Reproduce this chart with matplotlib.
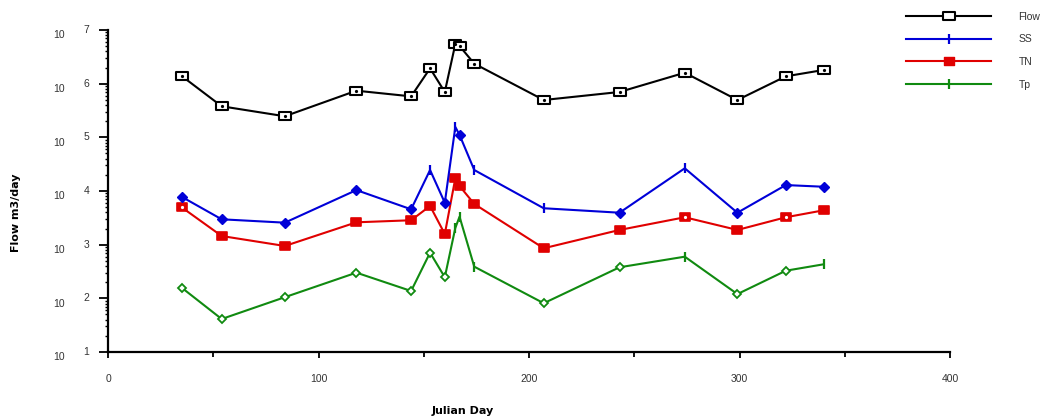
import matplotlib
matplotlib.use("Agg")
import matplotlib.pyplot as plt
from matplotlib.lines import Line2D
from matplotlib.path import Path
import numpy as np

plt.rcParams['font.family'] = ['Liberation Sans', 'DejaVu Sans']

# ---------------- data ----------------
days = [35, 54, 84, 118, 144, 153, 160, 165, 167, 174, 207, 243, 274, 299, 322, 340]
flow = [1.39e6, 3.79e5, 2.47e5, 7.4e5, 5.8e5, 1.93e6, 7.0e5, 5.48e6, 5.03e6, 2.36e6,
        4.96e5, 7.0e5, 1.60e6, 4.96e5, 1.37e6, 1.80e6]
ss = [7.8e3, 2.97e3, 2.57e3, 1.04e4, 4.56e3, 2.46e4, 6.05e3, 1.56e5, 1.11e5, 2.46e4,
      4.77e3, 3.94e3, 2.65e4, 3.94e3, 1.29e4, 1.20e4]
tn = [4.97e3, 1.45e3, 945, 2.61e3, 2.85e3, 5.26e3, 1.58e3, 1.73e4, 1.24e4, 5.73e3,
      857, 1.88e3, 3.24e3, 1.88e3, 3.24e3, 4.37e3]
tp = [158, 41.2, 105, 301, 137, 710, 247, 2.05e3, 3.32e3, 389,
      81, 379, 597, 120, 327, 431]
series_names = ['Flow', 'SS', 'TN', 'Tp']
x_ticks = [0, 100, 200, 300, 400]
y_exponents = [1, 2, 3, 4, 5, 6, 7]

# per-point marker kinds (style)
ss_kind = ['D', 'D', 'D', 'D', 'D', '|', 'D', '|', 'D', '|', '|', 'D', '|', 'D', 'D', 'D']
tp_kind = ['D', 'D', 'D', 'D', 'D', 'D', 'D', '|', '|', '|', 'D', 'D', '|', 'D', 'D', '|']
tn_dot = [True] + [False] * 11 + [True, False, True, False]

# ---------------- styles ----------------
C_FLOW = '#000000'
C_SS = '#0000d8'
C_TN = '#e00000'
C_TP = '#108a10'
LW = 1.5
TXT = '#333333'

rect = Path([(-1, -0.72), (1, -0.72), (1, 0.72), (-1, 0.72), (-1, -0.72)],
            [Path.MOVETO, Path.LINETO, Path.LINETO, Path.LINETO, Path.CLOSEPOLY])

fig = plt.figure(figsize=(10.41, 4.17), dpi=100)
ax = fig.add_axes([108 / 1041, 65 / 417, 842 / 1041, 322 / 417])

d = np.array(days)

# Flow
ax.plot(days, flow, color=C_FLOW, lw=LW, marker=rect, ms=8.2, mfc='white',
        mec=C_FLOW, mew=1.5, zorder=5)
ax.plot(days, flow, ls='none', marker='o', ms=1.3, mfc=C_FLOW, mec=C_FLOW, zorder=6)

# SS
ax.plot(days, ss, color=C_SS, lw=LW, zorder=4)
ssa = np.array(ss)
m = np.array([k == 'D' for k in ss_kind])
ax.plot(d[m], ssa[m], ls='none', marker='D', ms=4.6, mfc=C_SS, mec=C_SS, zorder=4)
ax.plot(d[~m], ssa[~m], ls='none', marker='|', ms=7, mew=1.6, mec=C_SS, zorder=4)

# TN
tna = np.array(tn)
ax.plot(days, tn, color=C_TN, lw=LW, marker=rect, ms=7.4, mfc=C_TN, mec=C_TN,
        mew=1.2, zorder=3)
dm = np.array(tn_dot)
ax.plot(d[dm], tna[dm], ls='none', marker='o', ms=1.3, mfc='white', mec='white', zorder=3.5)

# Tp
tpa = np.array(tp)
ax.plot(days, tp, color=C_TP, lw=LW, zorder=2)
m2 = np.array([k == 'D' for k in tp_kind])
ax.plot(d[m2], tpa[m2], ls='none', marker='D', ms=4.4, mfc='white', mec=C_TP, mew=1.3, zorder=2)
ax.plot(d[~m2], tpa[~m2], ls='none', marker='|', ms=7, mew=1.6, mec=C_TP, zorder=2)

# ---------------- axes ----------------
ax.set_yscale('log')
ax.set_ylim(10, 1e7)
ax.set_xlim(0, 400)
for s in ['top', 'right']:
    ax.spines[s].set_visible(False)
for s in ['left', 'bottom']:
    ax.spines[s].set_linewidth(1.6)

ax.set_xticks(x_ticks)
ax.set_xticks([50, 150, 250, 350], minor=True)
ax.set_xticklabels([str(v) for v in x_ticks], fontsize=7.5, color=TXT)
ax.tick_params(axis='x', which='major', direction='out', length=4.5, width=1.3, pad=11)
ax.tick_params(axis='x', which='minor', direction='out', length=3.5, width=1.3)

yt = [10.0 ** e for e in y_exponents]
ax.set_yticks(yt)
ax.set_yticklabels([str(e) for e in y_exponents], fontsize=7.5, color=TXT)
ax.yaxis.set_minor_locator(matplotlib.ticker.LogLocator(base=10, subs=np.arange(2, 10)))
ax.yaxis.set_minor_formatter(matplotlib.ticker.NullFormatter())
ax.tick_params(axis='y', which='major', direction='out', length=6.5, width=1.3, pad=7)
ax.tick_params(axis='y', which='minor', direction='out', length=2.2, width=1.0)
for lab in ax.get_yticklabels():
    lab.set_verticalalignment('center')
    lab.set_y(lab.get_position()[1])

for v in yt:
    ax.annotate('10', xy=(0, v), xycoords=('axes fraction', 'data'),
                xytext=(-35.3, -3.8), textcoords='offset points',
                ha='center', va='center', fontsize=7.5, color=TXT)

fig.text(463 / 1041, 1 - 411 / 417, 'Julian Day', ha='center', va='center',
         fontsize=8, fontweight='bold', family='DejaVu Sans')
fig.text(16 / 1041, 1 - 213 / 417, 'Flow m3/day', ha='center', va='center',
         rotation=90, fontsize=8, fontweight='bold', family='DejaVu Sans')

# ---------------- legend ----------------
handles = [
    Line2D([], [], color=C_FLOW, lw=LW, marker=rect, ms=8.2, mfc='white', mec=C_FLOW, mew=1.5),
    Line2D([], [], color=C_SS, lw=LW, marker='|', ms=7, mew=1.6, mec=C_SS),
    Line2D([], [], color=C_TN, lw=LW, marker=rect, ms=7.4, mfc=C_TN, mec=C_TN),
    Line2D([], [], color=C_TP, lw=LW, marker='|', ms=7, mew=1.6, mec=C_TP),
]
leg = fig.legend(handles, series_names, loc='upper left',
                 bbox_to_anchor=(906 / 1041, 1 - 12 / 417), bbox_transform=fig.transFigure,
                 frameon=False, borderpad=0, borderaxespad=0, handlelength=8.2,
                 handletextpad=2.6, labelspacing=1.2, fontsize=7.5, markerscale=1.0)
for t in leg.get_texts():
    t.set_color(TXT)

fig.savefig('out.png', dpi=100)
